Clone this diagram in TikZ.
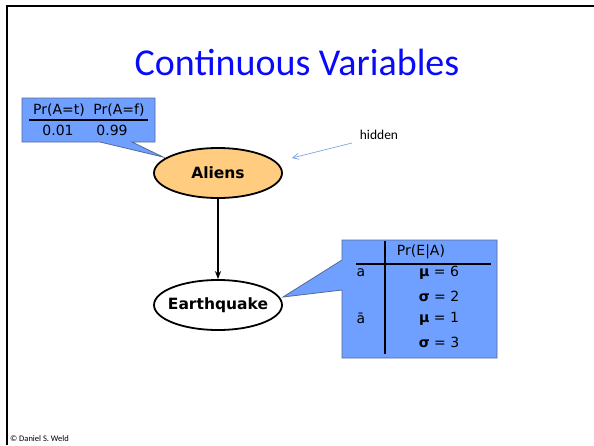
\documentclass[tikz,border=0pt]{standalone}
\usepackage{fontspec}
\setmainfont{DejaVu Sans}
\newfontfamily\calfont{Carlito}
\usetikzlibrary{arrows.meta,shapes.geometric}
\definecolor{cptblue}{RGB}{112,160,255}
\definecolor{cptedge}{RGB}{85,105,150}
\definecolor{alienfill}{RGB}{255,204,128}
\definecolor{titleblue}{RGB}{10,10,250}
\definecolor{hidblue}{RGB}{120,160,225}
\begin{document}
\begin{tikzpicture}[x=1pt,y=-1pt,
  cpt/.style={fill=cptblue,draw=cptedge,line width=0.8pt},
  varnode/.style={ellipse,draw=black,line width=1.8pt,minimum width=128pt,minimum height=50pt,font=\bfseries\fontsize{15.5}{17}\selectfont,inner ysep=0pt,inner xsep=-16pt},
  tabtxt/.style={font=\fontsize{14}{16}\selectfont,inner sep=0pt},
  rule/.style={line width=1.6pt,black}]
\useasboundingbox (0,0) rectangle (594,445);
% frame
\draw[line width=2.2pt] (7,445) -- (7,6) -- (594,6);
% title
\node[font=\calfont\fontsize{38}{42}\selectfont,text=titleblue] (title) at (297,62) {Continuous Variables};
% nodes
\node[varnode,fill=alienfill] (aliens) at (218,173) {Aliens};
\node[varnode,fill=white] (earth) at (218,305) {Earthquake};
\draw[line width=1.6pt,-{Stealth[length=8pt,width=6pt]}] (aliens) -- (earth);
% top CPT
\path[cpt] (22,98) -- (155,98) -- (155,142) -- (132,142) -- (163,157) -- (100,142) -- (22,142) -- cycle;
\node[tabtxt] (h1) at (59,110) {Pr(A=t)};
\node[tabtxt] (h2) at (119,110) {Pr(A=f)};
\draw[rule] (29,120) -- (148,120);
\node[tabtxt] (v1) at (58,130) {0.01};
\node[tabtxt] (v2) at (112,130) {0.99};
% hidden label
\node[font=\calfont\fontsize{13.5}{15}\selectfont] (hidden) at (379,135) {hidden};
\coordinate (hidtail) at (352,143);
\coordinate (hidtip) at (292,158);
\draw[hidblue,line width=0.7pt,-{Straight Barb[length=6pt,width=6pt]}] (hidtail) -- (hidtip);
% bottom CPT
\path[cpt] (342,240) -- (497,240) -- (497,358) -- (342,358) -- (342,290) -- (283,297) -- (342,260) -- cycle;
\draw[rule] (385,241) -- (385,354);
\draw[rule] (356,264) -- (491,264);
\node[tabtxt] (hE) at (421,252) {Pr(E|A)};
\node[tabtxt] (ra) at (361,273) {a};
\node[tabtxt] (rna) at (361,318) {ā};
\node[tabtxt] (m1) at (439,273) {\textbf{μ} = 6};
\node[tabtxt] (s1) at (439,296) {\textbf{σ} = 2};
\node[tabtxt] (m2) at (439,319) {\textbf{μ} = 1};
\node[tabtxt] (s2) at (439,342) {\textbf{σ} = 3};
% footer
\node[font=\calfont\fontsize{8.5}{9}\selectfont,anchor=west,inner sep=0pt] (foot) at (10,439) {© Daniel S. Weld};
\end{tikzpicture}
\end{document}
